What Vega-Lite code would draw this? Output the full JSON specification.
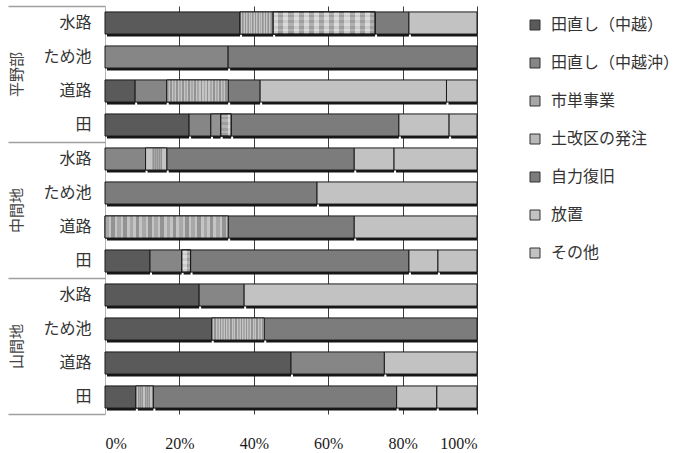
{
  "$schema": "https://vega.github.io/schema/vega-lite/v6.json",
  "width": 372,
  "height": 408,
  "autosize": {"type": "none"},
  "padding": {"left": 105, "top": 6, "right": 215, "bottom": 39},
  "background": "white",
  "config": {"view": {"stroke": null}},
  "data": {"values": [
    {"g": "平野部", "c": "水路", "k": "平野部|水路", "t": "田直し（中越）", "o": 1, "v": 36.3},
    {"g": "平野部", "c": "水路", "k": "平野部|水路", "t": "市単事業", "o": 3, "v": 8.9},
    {"g": "平野部", "c": "水路", "k": "平野部|水路", "t": "土改区の発注", "o": 4, "v": 27.4},
    {"g": "平野部", "c": "水路", "k": "平野部|水路", "t": "自力復旧", "o": 5, "v": 9.1},
    {"g": "平野部", "c": "水路", "k": "平野部|水路", "t": "放置", "o": 6, "v": 18.3},
    {"g": "平野部", "c": "ため池", "k": "平野部|ため池", "t": "田直し（中越沖）", "o": 2, "v": 33.1},
    {"g": "平野部", "c": "ため池", "k": "平野部|ため池", "t": "自力復旧", "o": 5, "v": 66.9},
    {"g": "平野部", "c": "道路", "k": "平野部|道路", "t": "田直し（中越）", "o": 1, "v": 8.1},
    {"g": "平野部", "c": "道路", "k": "平野部|道路", "t": "田直し（中越沖）", "o": 2, "v": 8.5},
    {"g": "平野部", "c": "道路", "k": "平野部|道路", "t": "市単事業", "o": 3, "v": 16.5},
    {"g": "平野部", "c": "道路", "k": "平野部|道路", "t": "自力復旧", "o": 5, "v": 8.6},
    {"g": "平野部", "c": "道路", "k": "平野部|道路", "t": "放置", "o": 6, "v": 50.1},
    {"g": "平野部", "c": "道路", "k": "平野部|道路", "t": "その他", "o": 7, "v": 8.2},
    {"g": "平野部", "c": "田", "k": "平野部|田", "t": "田直し（中越）", "o": 1, "v": 22.6},
    {"g": "平野部", "c": "田", "k": "平野部|田", "t": "田直し（中越沖）", "o": 2, "v": 5.9},
    {"g": "平野部", "c": "田", "k": "平野部|田", "t": "市単事業", "o": 3, "v": 2.6},
    {"g": "平野部", "c": "田", "k": "平野部|田", "t": "土改区の発注", "o": 4, "v": 2.8},
    {"g": "平野部", "c": "田", "k": "平野部|田", "t": "自力復旧", "o": 5, "v": 45.1},
    {"g": "平野部", "c": "田", "k": "平野部|田", "t": "放置", "o": 6, "v": 13.5},
    {"g": "平野部", "c": "田", "k": "平野部|田", "t": "その他", "o": 7, "v": 7.5},
    {"g": "中間地", "c": "水路", "k": "中間地|水路", "t": "田直し（中越沖）", "o": 2, "v": 10.9},
    {"g": "中間地", "c": "水路", "k": "中間地|水路", "t": "市単事業", "o": 3, "v": 5.7},
    {"g": "中間地", "c": "水路", "k": "中間地|水路", "t": "自力復旧", "o": 5, "v": 50.4},
    {"g": "中間地", "c": "水路", "k": "中間地|水路", "t": "放置", "o": 6, "v": 10.7},
    {"g": "中間地", "c": "水路", "k": "中間地|水路", "t": "その他", "o": 7, "v": 22.3},
    {"g": "中間地", "c": "ため池", "k": "中間地|ため池", "t": "自力復旧", "o": 5, "v": 57.0},
    {"g": "中間地", "c": "ため池", "k": "中間地|ため池", "t": "放置", "o": 6, "v": 43.0},
    {"g": "中間地", "c": "道路", "k": "中間地|道路", "t": "市単事業", "o": 3, "v": 33.1},
    {"g": "中間地", "c": "道路", "k": "中間地|道路", "t": "自力復旧", "o": 5, "v": 33.9},
    {"g": "中間地", "c": "道路", "k": "中間地|道路", "t": "放置", "o": 6, "v": 33.0},
    {"g": "中間地", "c": "田", "k": "中間地|田", "t": "田直し（中越）", "o": 1, "v": 12.1},
    {"g": "中間地", "c": "田", "k": "中間地|田", "t": "田直し（中越沖）", "o": 2, "v": 8.5},
    {"g": "中間地", "c": "田", "k": "中間地|田", "t": "土改区の発注", "o": 4, "v": 2.4},
    {"g": "中間地", "c": "田", "k": "中間地|田", "t": "自力復旧", "o": 5, "v": 58.7},
    {"g": "中間地", "c": "田", "k": "中間地|田", "t": "放置", "o": 6, "v": 7.8},
    {"g": "中間地", "c": "田", "k": "中間地|田", "t": "その他", "o": 7, "v": 10.5},
    {"g": "山間地", "c": "水路", "k": "山間地|水路", "t": "田直し（中越）", "o": 1, "v": 25.3},
    {"g": "山間地", "c": "水路", "k": "山間地|水路", "t": "田直し（中越沖）", "o": 2, "v": 12.1},
    {"g": "山間地", "c": "水路", "k": "山間地|水路", "t": "放置", "o": 6, "v": 62.6},
    {"g": "山間地", "c": "ため池", "k": "山間地|ため池", "t": "田直し（中越）", "o": 1, "v": 28.7},
    {"g": "山間地", "c": "ため池", "k": "山間地|ため池", "t": "市単事業", "o": 3, "v": 14.1},
    {"g": "山間地", "c": "ため池", "k": "山間地|ため池", "t": "自力復旧", "o": 5, "v": 57.2},
    {"g": "山間地", "c": "道路", "k": "山間地|道路", "t": "田直し（中越）", "o": 1, "v": 50.0},
    {"g": "山間地", "c": "道路", "k": "山間地|道路", "t": "田直し（中越沖）", "o": 2, "v": 25.1},
    {"g": "山間地", "c": "道路", "k": "山間地|道路", "t": "放置", "o": 6, "v": 24.9},
    {"g": "山間地", "c": "田", "k": "山間地|田", "t": "田直し（中越）", "o": 1, "v": 8.3},
    {"g": "山間地", "c": "田", "k": "山間地|田", "t": "市単事業", "o": 3, "v": 4.7},
    {"g": "山間地", "c": "田", "k": "山間地|田", "t": "自力復旧", "o": 5, "v": 65.4},
    {"g": "山間地", "c": "田", "k": "山間地|田", "t": "放置", "o": 6, "v": 10.8},
    {"g": "山間地", "c": "田", "k": "山間地|田", "t": "その他", "o": 7, "v": 10.8}
  ]},
  "transform": [
    {"stack": "v", "groupby": ["k"], "sort": [{"field": "o", "order": "ascending"}], "as": ["x0", "x1"]}
  ],
  "layer": [
    {
      "mark": {"type": "bar", "fill": "#161616", "xOffset": 2, "yOffset": 2.5},
      "encoding": {
        "x": {"field": "x0", "type": "quantitative", "scale": {"domain": [0, 100]},
          "axis": {"orient": "bottom", "values": [0, 20, 40, 60, 80, 100], "labelExpr": "datum.value + '%'", "title": null, "domain": false, "ticks": false, "labelPadding": 21, "labelFontSize": 16, "labelFont": "Liberation Serif, Times New Roman, serif", "labelColor": "#1a1a1a", "grid": true, "gridColor": {"condition": {"test": "datum.value === 0", "value": "#b4b4b4"}, "value": "#3c3c3c"}, "gridWidth": 1}},
        "x2": {"field": "x1"},
        "y": {"field": "k", "type": "nominal", "scale": {"domain": ["平野部|水路", "平野部|ため池", "平野部|道路", "平野部|田", "中間地|水路", "中間地|ため池", "中間地|道路", "中間地|田", "山間地|水路", "山間地|ため池", "山間地|道路", "山間地|田"], "paddingInner": 0.35, "paddingOuter": 0.175},
          "axis": {"orient": "left", "title": null, "labelExpr": "split(datum.value, '|')[1]", "ticks": false, "domain": false, "grid": false, "labelPadding": 14, "labelFont": "Noto Sans CJK JP", "labelFontSize": 16, "labelColor": "#333"}}
      }
    },
    {
      "mark": {"type": "bar", "stroke": "#1a1a1a", "strokeWidth": 1},
      "encoding": {
        "x": {"field": "x0", "type": "quantitative", "scale": {"domain": [0, 100]}},
        "x2": {"field": "x1"},
        "y": {"field": "k", "type": "nominal", "scale": {"domain": ["平野部|水路", "平野部|ため池", "平野部|道路", "平野部|田", "中間地|水路", "中間地|ため池", "中間地|道路", "中間地|田", "山間地|水路", "山間地|ため池", "山間地|道路", "山間地|田"], "paddingInner": 0.35, "paddingOuter": 0.175}, "axis": null},
        "color": {"field": "t", "type": "nominal",
          "scale": {"domain": ["田直し（中越）", "田直し（中越沖）", "市単事業", "土改区の発注", "自力復旧", "放置", "その他"], "range": ["#5a5a5a", "#868686", "#a6a6a6", "#b8b8b8", "#7c7c7c", "#c2c2c2", "#c2c2c2"]},
          "legend": {"title": null, "orient": "right", "offset": 39, "padding": 11, "symbolType": "square", "symbolSize": 100, "symbolStrokeColor": "#333", "symbolStrokeWidth": 1, "labelFont": "Noto Sans CJK JP", "labelFontSize": 16, "labelColor": "#333", "rowPadding": 22, "labelOffset": 8, "labelLimit": 200}}
      }
    },
    {
      "transform": [{"filter": "datum.t === '市単事業'"}],
      "mark": {"type": "bar", "stroke": "#1a1a1a", "strokeWidth": 1,
        "fill": {"gradient": "linear", "x1": 0, "y1": 0, "x2": 1, "y2": 0, "stops": [
          {"offset": 0, "color": "#a8a8a8"}, {"offset": 0.03, "color": "#a8a8a8"},
          {"offset": 0.03, "color": "#c4c4c4"}, {"offset": 0.05, "color": "#c4c4c4"},
          {"offset": 0.05, "color": "#939393"}, {"offset": 0.08, "color": "#939393"},
          {"offset": 0.08, "color": "#c4c4c4"}, {"offset": 0.10, "color": "#c4c4c4"},
          {"offset": 0.10, "color": "#a8a8a8"}, {"offset": 0.13, "color": "#a8a8a8"},
          {"offset": 0.13, "color": "#c4c4c4"}, {"offset": 0.15, "color": "#c4c4c4"},
          {"offset": 0.15, "color": "#939393"}, {"offset": 0.18, "color": "#939393"},
          {"offset": 0.18, "color": "#c4c4c4"}, {"offset": 0.20, "color": "#c4c4c4"},
          {"offset": 0.20, "color": "#a8a8a8"}, {"offset": 0.23, "color": "#a8a8a8"},
          {"offset": 0.23, "color": "#c4c4c4"}, {"offset": 0.25, "color": "#c4c4c4"},
          {"offset": 0.25, "color": "#939393"}, {"offset": 0.28, "color": "#939393"},
          {"offset": 0.28, "color": "#c4c4c4"}, {"offset": 0.30, "color": "#c4c4c4"},
          {"offset": 0.30, "color": "#a8a8a8"}, {"offset": 0.33, "color": "#a8a8a8"},
          {"offset": 0.33, "color": "#c4c4c4"}, {"offset": 0.35, "color": "#c4c4c4"},
          {"offset": 0.35, "color": "#939393"}, {"offset": 0.38, "color": "#939393"},
          {"offset": 0.38, "color": "#c4c4c4"}, {"offset": 0.40, "color": "#c4c4c4"},
          {"offset": 0.40, "color": "#a8a8a8"}, {"offset": 0.43, "color": "#a8a8a8"},
          {"offset": 0.43, "color": "#c4c4c4"}, {"offset": 0.45, "color": "#c4c4c4"},
          {"offset": 0.45, "color": "#939393"}, {"offset": 0.48, "color": "#939393"},
          {"offset": 0.48, "color": "#c4c4c4"}, {"offset": 0.50, "color": "#c4c4c4"},
          {"offset": 0.50, "color": "#a8a8a8"}, {"offset": 0.53, "color": "#a8a8a8"},
          {"offset": 0.53, "color": "#c4c4c4"}, {"offset": 0.55, "color": "#c4c4c4"},
          {"offset": 0.55, "color": "#939393"}, {"offset": 0.58, "color": "#939393"},
          {"offset": 0.58, "color": "#c4c4c4"}, {"offset": 0.60, "color": "#c4c4c4"},
          {"offset": 0.60, "color": "#a8a8a8"}, {"offset": 0.63, "color": "#a8a8a8"},
          {"offset": 0.63, "color": "#c4c4c4"}, {"offset": 0.65, "color": "#c4c4c4"},
          {"offset": 0.65, "color": "#939393"}, {"offset": 0.68, "color": "#939393"},
          {"offset": 0.68, "color": "#c4c4c4"}, {"offset": 0.70, "color": "#c4c4c4"},
          {"offset": 0.70, "color": "#a8a8a8"}, {"offset": 0.73, "color": "#a8a8a8"},
          {"offset": 0.73, "color": "#c4c4c4"}, {"offset": 0.75, "color": "#c4c4c4"},
          {"offset": 0.75, "color": "#939393"}, {"offset": 0.78, "color": "#939393"},
          {"offset": 0.78, "color": "#c4c4c4"}, {"offset": 0.80, "color": "#c4c4c4"},
          {"offset": 0.80, "color": "#a8a8a8"}, {"offset": 0.83, "color": "#a8a8a8"},
          {"offset": 0.83, "color": "#c4c4c4"}, {"offset": 0.85, "color": "#c4c4c4"},
          {"offset": 0.85, "color": "#939393"}, {"offset": 0.88, "color": "#939393"},
          {"offset": 0.88, "color": "#c4c4c4"}, {"offset": 0.90, "color": "#c4c4c4"},
          {"offset": 0.90, "color": "#a8a8a8"}, {"offset": 0.93, "color": "#a8a8a8"},
          {"offset": 0.93, "color": "#c4c4c4"}, {"offset": 0.95, "color": "#c4c4c4"},
          {"offset": 0.95, "color": "#939393"}, {"offset": 0.98, "color": "#939393"},
          {"offset": 0.98, "color": "#c4c4c4"}, {"offset": 1, "color": "#c4c4c4"}
        ]}},
      "encoding": {
        "x": {"field": "x0", "type": "quantitative", "scale": {"domain": [0, 100]}},
        "x2": {"field": "x1"},
        "y": {"field": "k", "type": "nominal", "scale": {"domain": ["平野部|水路", "平野部|ため池", "平野部|道路", "平野部|田", "中間地|水路", "中間地|ため池", "中間地|道路", "中間地|田", "山間地|水路", "山間地|ため池", "山間地|道路", "山間地|田"], "paddingInner": 0.35, "paddingOuter": 0.175}, "axis": null}
      }
    },
    {
      "transform": [{"filter": "datum.t === '土改区の発注'"}],
      "mark": {"type": "bar", "stroke": "#1a1a1a", "strokeWidth": 1,
        "fill": {"gradient": "linear", "x1": 0, "y1": 0, "x2": 0, "y2": 1, "stops": [
          {"offset": 0, "color": "#c8c8c8"}, {"offset": 0.125, "color": "#c8c8c8"},
          {"offset": 0.125, "color": "#afafaf"}, {"offset": 0.25, "color": "#afafaf"},
          {"offset": 0.25, "color": "#c8c8c8"}, {"offset": 0.375, "color": "#c8c8c8"},
          {"offset": 0.375, "color": "#afafaf"}, {"offset": 0.5, "color": "#afafaf"},
          {"offset": 0.5, "color": "#c8c8c8"}, {"offset": 0.625, "color": "#c8c8c8"},
          {"offset": 0.625, "color": "#afafaf"}, {"offset": 0.75, "color": "#afafaf"},
          {"offset": 0.75, "color": "#c8c8c8"}, {"offset": 0.875, "color": "#c8c8c8"},
          {"offset": 0.875, "color": "#afafaf"}, {"offset": 1, "color": "#afafaf"}
        ]}},
      "encoding": {
        "x": {"field": "x0", "type": "quantitative", "scale": {"domain": [0, 100]}},
        "x2": {"field": "x1"},
        "y": {"field": "k", "type": "nominal", "scale": {"domain": ["平野部|水路", "平野部|ため池", "平野部|道路", "平野部|田", "中間地|水路", "中間地|ため池", "中間地|道路", "中間地|田", "山間地|水路", "山間地|ため池", "山間地|道路", "山間地|田"], "paddingInner": 0.35, "paddingOuter": 0.175}, "axis": null}
      }
    },
    {
      "transform": [{"filter": "datum.t === '土改区の発注'"}],
      "mark": {"type": "bar", "stroke": "#1a1a1a", "strokeWidth": 1,
        "fill": {"gradient": "linear", "x1": 0, "y1": 0, "x2": 1, "y2": 0, "stops": [
          {"offset": 0, "color": "rgba(255,255,255,0.35)"}, {"offset": 0.05, "color": "rgba(255,255,255,0.35)"},
          {"offset": 0.05, "color": "rgba(90,90,90,0.2)"}, {"offset": 0.10, "color": "rgba(90,90,90,0.2)"},
          {"offset": 0.10, "color": "rgba(255,255,255,0.35)"}, {"offset": 0.15, "color": "rgba(255,255,255,0.35)"},
          {"offset": 0.15, "color": "rgba(90,90,90,0.2)"}, {"offset": 0.20, "color": "rgba(90,90,90,0.2)"},
          {"offset": 0.20, "color": "rgba(255,255,255,0.35)"}, {"offset": 0.25, "color": "rgba(255,255,255,0.35)"},
          {"offset": 0.25, "color": "rgba(90,90,90,0.2)"}, {"offset": 0.30, "color": "rgba(90,90,90,0.2)"},
          {"offset": 0.30, "color": "rgba(255,255,255,0.35)"}, {"offset": 0.35, "color": "rgba(255,255,255,0.35)"},
          {"offset": 0.35, "color": "rgba(90,90,90,0.2)"}, {"offset": 0.40, "color": "rgba(90,90,90,0.2)"},
          {"offset": 0.40, "color": "rgba(255,255,255,0.35)"}, {"offset": 0.45, "color": "rgba(255,255,255,0.35)"},
          {"offset": 0.45, "color": "rgba(90,90,90,0.2)"}, {"offset": 0.50, "color": "rgba(90,90,90,0.2)"},
          {"offset": 0.50, "color": "rgba(255,255,255,0.35)"}, {"offset": 0.55, "color": "rgba(255,255,255,0.35)"},
          {"offset": 0.55, "color": "rgba(90,90,90,0.2)"}, {"offset": 0.60, "color": "rgba(90,90,90,0.2)"},
          {"offset": 0.60, "color": "rgba(255,255,255,0.35)"}, {"offset": 0.65, "color": "rgba(255,255,255,0.35)"},
          {"offset": 0.65, "color": "rgba(90,90,90,0.2)"}, {"offset": 0.70, "color": "rgba(90,90,90,0.2)"},
          {"offset": 0.70, "color": "rgba(255,255,255,0.35)"}, {"offset": 0.75, "color": "rgba(255,255,255,0.35)"},
          {"offset": 0.75, "color": "rgba(90,90,90,0.2)"}, {"offset": 0.80, "color": "rgba(90,90,90,0.2)"},
          {"offset": 0.80, "color": "rgba(255,255,255,0.35)"}, {"offset": 0.85, "color": "rgba(255,255,255,0.35)"},
          {"offset": 0.85, "color": "rgba(90,90,90,0.2)"}, {"offset": 0.90, "color": "rgba(90,90,90,0.2)"},
          {"offset": 0.90, "color": "rgba(255,255,255,0.35)"}, {"offset": 0.95, "color": "rgba(255,255,255,0.35)"},
          {"offset": 0.95, "color": "rgba(90,90,90,0.2)"}, {"offset": 1, "color": "rgba(90,90,90,0.2)"}
        ]}},
      "encoding": {
        "x": {"field": "x0", "type": "quantitative", "scale": {"domain": [0, 100]}},
        "x2": {"field": "x1"},
        "y": {"field": "k", "type": "nominal", "scale": {"domain": ["平野部|水路", "平野部|ため池", "平野部|道路", "平野部|田", "中間地|水路", "中間地|ため池", "中間地|道路", "中間地|田", "山間地|水路", "山間地|ため池", "山間地|道路", "山間地|田"], "paddingInner": 0.35, "paddingOuter": 0.175}, "axis": null}
      }
    },
    {
      "mark": {"type": "point", "opacity": 0},
      "encoding": {
        "y": {"field": "g", "type": "nominal", "scale": {"domain": ["平野部", "中間地", "山間地"], "paddingInner": 0, "paddingOuter": 0},
          "axis": {"orient": "left", "title": null, "domain": false, "ticks": true, "tickBand": "extent", "tickExtra": true, "tickSize": 97, "tickColor": "#a0a0a0", "tickWidth": 1.5, "labelAngle": -90, "labelAlign": "center", "labelBaseline": "middle", "labelPadding": -8, "labelFont": "Noto Sans CJK JP", "labelFontSize": 15, "labelColor": "#444"}}
      }
    }
  ],
  "resolve": {"scale": {"y": "independent"}}
}
